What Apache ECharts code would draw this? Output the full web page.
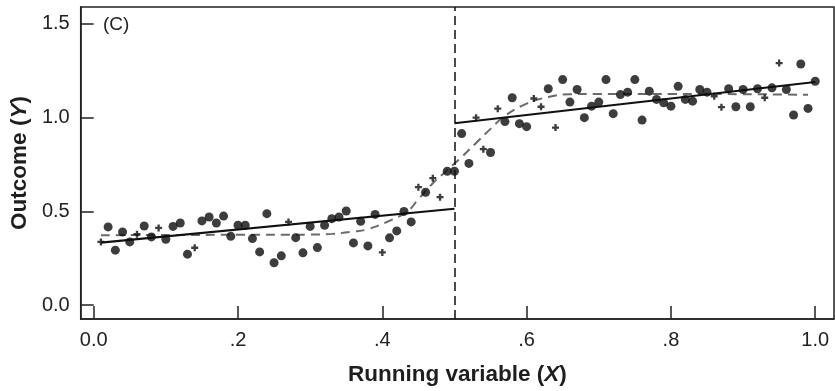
<!DOCTYPE html>
<html>
<head>
<meta charset="utf-8">
<script src="https://cdn.jsdelivr.net/npm/echarts@6/dist/echarts.min.js"></script>
<style>html,body{margin:0;padding:0;background:#fff}#c{width:835px;height:391px}</style>
</head>
<body>
<div id="c"></div>
<script>
// ---- data ----
const runX = [
0.01,0.02,0.03,0.04,0.05,0.06,0.07,0.08,0.09,0.10,
0.11,0.12,0.13,0.14,0.15,0.16,0.17,0.18,0.19,0.20,
0.21,0.22,0.23,0.24,0.25,0.26,0.27,0.28,0.29,0.30,
0.31,0.32,0.33,0.34,0.35,0.36,0.37,0.38,0.39,0.40,
0.41,0.42,0.43,0.44,0.45,0.46,0.47,0.48,0.49,0.50,
0.51,0.52,0.53,0.54,0.55,0.56,0.57,0.58,0.59,0.60,
0.61,0.62,0.63,0.64,0.65,0.66,0.67,0.68,0.69,0.70,
0.71,0.72,0.73,0.74,0.75,0.76,0.77,0.78,0.79,0.80,
0.81,0.82,0.83,0.84,0.85,0.86,0.87,0.88,0.89,0.90,
0.91,0.92,0.93,0.94,0.95,0.96,0.97,0.98,0.99,1.00];
const outcomeY = [
0.337,0.417,0.293,0.390,0.337,0.378,0.422,0.364,0.412,0.351,
0.420,0.438,0.272,0.306,0.449,0.470,0.438,0.475,0.367,0.426,
0.426,0.355,0.284,0.488,0.226,0.263,0.444,0.360,0.279,0.420,
0.307,0.426,0.461,0.470,0.502,0.332,0.447,0.316,0.484,0.281,
0.359,0.396,0.500,0.444,0.629,0.602,0.677,0.576,0.714,0.714,
0.915,0.756,1.000,0.832,0.814,1.048,0.979,1.106,0.968,0.952,
1.102,1.058,1.154,0.947,1.203,1.083,1.150,1.000,1.061,1.083,
1.203,1.021,1.123,1.136,1.203,0.987,1.141,1.097,1.079,1.061,
1.167,1.097,1.088,1.150,1.136,1.114,1.056,1.154,1.058,1.150,
1.058,1.154,1.106,1.159,1.291,1.150,1.014,1.286,1.049,1.194];
// 'o' = large dot, '+' = small cross
const markerKind =
"+oooo+oo+o" +
"ooo+oooooo" +
"oooooo+ooo" +
"ooooooooo+" +
"oooo+o++oo" +
"oo++o+oooo" +
"++o+oooooo" +
"oooooooooo" +
"ooooo++ooo" +
"oo+o+ooooo";

const cutoff = 0.5;
const fitLeftX = [0.01, 0.50];
const fitLeftY = [0.333, 0.514];
const fitRightX = [0.50, 1.00];
const fitRightY = [0.970, 1.190];

const smoothX = [0.01,0.10,0.20,0.30,0.33,0.36,0.38,0.41,0.435,0.45,0.47,0.49,0.50,0.51,0.53,0.55,0.57,0.60,0.63,0.66,0.70,0.80,0.90,0.99];
const smoothY = [0.373,0.374,0.375,0.376,0.380,0.392,0.405,0.450,0.500,0.565,0.650,0.720,0.755,0.790,0.865,0.940,1.010,1.075,1.110,1.125,1.126,1.126,1.125,1.122];

const xTicks = [0, 0.2, 0.4, 0.6, 0.8, 1.0];
const xTickLabels = ["0.0", ".2", ".4", ".6", ".8", "1.0"];
const yTicks = [0, 0.5, 1.0, 1.5];
const yTickLabels = ["0.0", "0.5", "1.0", "1.5"];

// ---- build ----
const dots = [], crosses = [];
runX.forEach((x, i) => {
  (markerKind[i] === '+' ? crosses : dots).push([x, outcomeY[i]]);
});
const zip = (a, b) => a.map((v, i) => [v, b[i]]);

const FONT = "'Liberation Sans', Arial, sans-serif";
const chart = echarts.init(document.getElementById('c'), null, {renderer: 'canvas'});
chart.setOption({
  animation: false,
  backgroundColor: '#fff',
  grid: {left: 79, right: 1, top: 7, bottom: 70, show: true, borderColor: '#222', borderWidth: 1.5, backgroundColor: 'transparent'},
  graphic: [{
    type: 'text', left: 103, top: 15,
    style: {text: '(C)', font: '19px ' + FONT, fill: '#222'}
  }],
  xAxis: {
    type: 'value', min: -0.018, max: 1.026,
    name: 'Running variable ({i|X})', nameLocation: 'middle', nameGap: 44,
    nameTextStyle: {fontFamily: FONT, fontSize: 22.5, fontWeight: 'bold', color: '#1e1e1e',
      rich: {i: {fontFamily: FONT, fontSize: 22.5, fontWeight: 'bold', fontStyle: 'italic', color: '#1e1e1e'}}},
    axisLine: {show: true, onZero: false, lineStyle: {color: '#222', width: 1.5}},
    axisTick: {show: true, inside: true, length: 13, customValues: xTicks, lineStyle: {color: '#222', width: 1.5}},
    axisLabel: {customValues: xTicks, margin: 11, fontFamily: FONT, fontSize: 20, color: '#222',
      formatter: v => { const k = xTicks.findIndex(t => Math.abs(t - v) < 1e-6); return k >= 0 ? xTickLabels[k] : ''; }},
    splitLine: {show: false}
  },
  yAxis: {
    type: 'value', min: -0.074, max: 1.59,
    name: 'Outcome ({i|Y})', nameLocation: 'middle', nameGap: 46,
    nameTextStyle: {fontFamily: FONT, fontSize: 22.5, fontWeight: 'bold', color: '#1e1e1e',
      rich: {i: {fontFamily: FONT, fontSize: 22.5, fontWeight: 'bold', fontStyle: 'italic', color: '#1e1e1e'}}},
    axisLine: {show: true, onZero: false, lineStyle: {color: '#222', width: 1.5}},
    axisTick: {show: true, inside: true, length: 13, customValues: yTicks, lineStyle: {color: '#222', width: 1.5}},
    axisLabel: {customValues: yTicks, margin: 11, fontFamily: FONT, fontSize: 20, color: '#222',
      formatter: v => { const k = yTicks.findIndex(t => Math.abs(t - v) < 1e-6); return k >= 0 ? yTickLabels[k] : ''; }},
    splitLine: {show: false}
  },
  series: [
    {
      type: 'line', data: zip(smoothX, smoothY), smooth: 0.4, symbol: 'none',
      lineStyle: {color: '#6a6a6a', width: 2, type: [9, 6]}, z: 2
    },
    {
      type: 'line', data: zip(fitLeftX, fitLeftY), symbol: 'none',
      lineStyle: {color: '#111', width: 2.2}, z: 3,
      markLine: {
        silent: true, symbol: 'none', label: {show: false},
        lineStyle: {color: '#111', width: 1.5, type: [9, 5]},
        data: [{xAxis: cutoff}]
      }
    },
    {
      type: 'line', data: zip(fitRightX, fitRightY), symbol: 'none',
      lineStyle: {color: '#111', width: 2.2}, z: 3
    },
    {
      type: 'scatter', data: dots, symbol: 'circle', symbolSize: 9,
      itemStyle: {color: '#0d0d0d'}, z: 4
    },
    {
      type: 'scatter', data: crosses, symbol: 'path://M2,0H4V2H6V4H4V6H2V4H0V2H2Z', symbolSize: 7,
      itemStyle: {color: '#0d0d0d'}, z: 4
    }
  ]
});
</script>
</body>
</html>
